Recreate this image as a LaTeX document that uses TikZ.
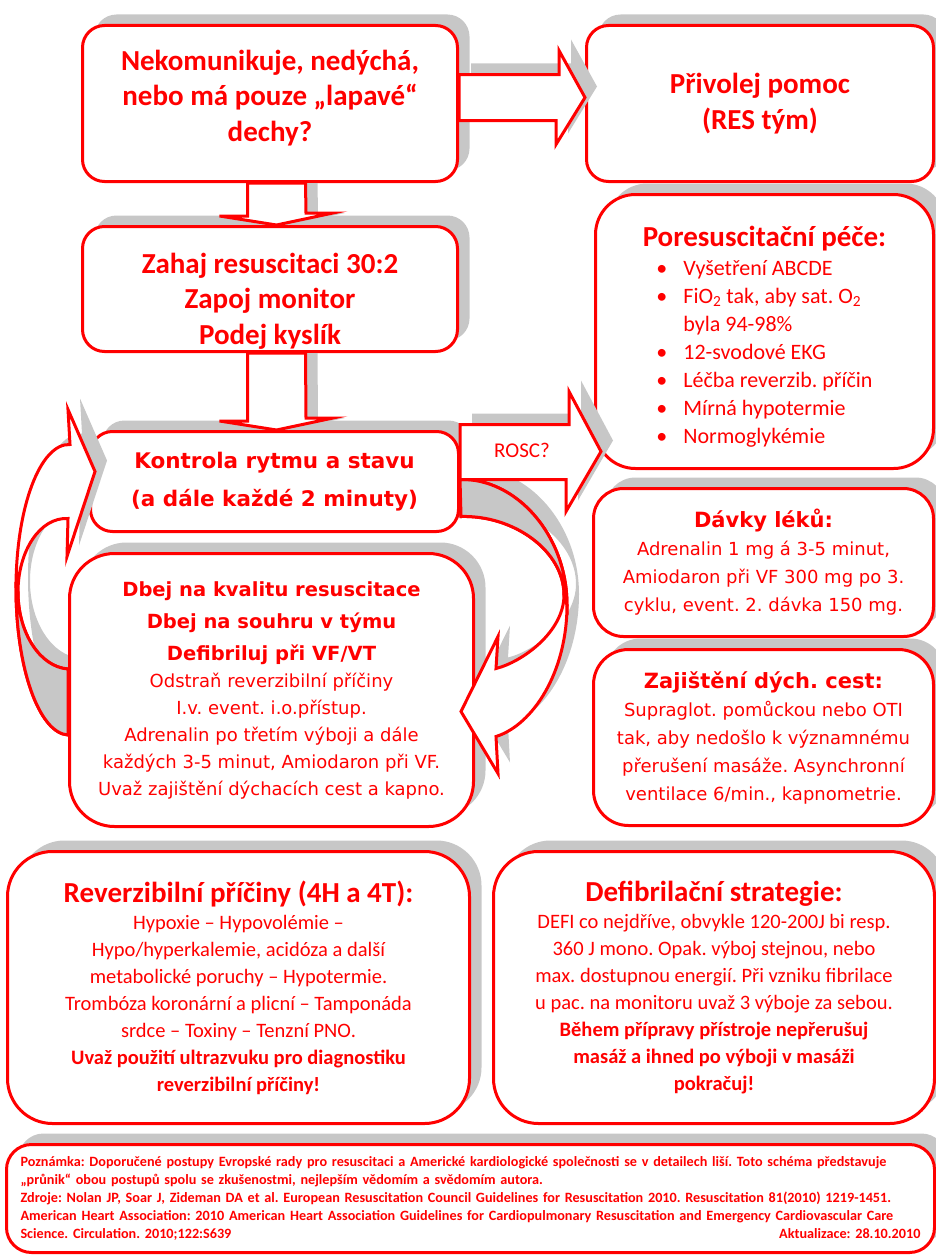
\documentclass[tikz,border=0pt]{standalone}
\usepackage{fontspec}
\setmainfont{Carlito}
\newfontfamily\tahoma{DejaVu Sans}
\usetikzlibrary{calc,shadows}
\pgfdeclarelayer{front}
\pgfsetlayers{main,front}
\frenchspacing

\begin{document}
\begin{tikzpicture}[x=1pt,y=-1pt,line join=miter,
    softshadow/.style={drop shadow={shadow xshift=12pt,shadow yshift=11pt,fill=black!22,opacity=1}},
    box/.style={draw=red,line width=3pt,fill=white,rounded corners=#1,text=red,align=center,inner sep=0pt,anchor=north west,softshadow},
    box/.default=22pt,
    big text/.style={font=\bfseries\fontsize{29}{35.5}\selectfont},
    wide text/.style={font=\tahoma\fontsize{18}{28}\selectfont},
    body text/.style={font=\fontsize{20.5}{27}\selectfont},
    arrow body/.style={draw=red,line width=3pt,fill=white},
    block arrow/.style={arrow body,softshadow},
    down arrow/.style={arrow body,drop shadow={shadow xshift=12pt,shadow yshift=0pt,fill=black!22,opacity=1}},
    back side/.style={draw=red,line width=3pt,fill=black!22}]
  \useasboundingbox (0,0) rectangle (935,1255);

  \node[box,big text,minimum width=375pt,minimum height=156pt] (ask) at (81,24)
    {Nekomunikuje, nedýchá,\\nebo má pouze „lapavé“\\dechy?\rule[-16pt]{0pt}{1pt}};
  \node[box,big text,minimum width=347pt,minimum height=156pt] (help) at (585,24)
    {Přivolej pomoc\\(RES tým)};
  \node[box,big text,minimum width=375pt,minimum height=125pt] (start) at (81,225)
    {\rule{0pt}{44pt}Zahaj resuscitaci 30:2\\Zapoj monitor\\Podej kyslík};
  \node[box,font=\tahoma\bfseries\fontsize{21.5}{38}\selectfont,minimum width=368pt,minimum height=100pt] (check) at (89,430)
    {Kontrola rytmu a stavu\\(a dále každé 2 minuty)};
  \node[box=40pt,font=\fontsize{22}{28}\selectfont,minimum width=338pt,minimum height=274pt] (post) at (594,193)
    {{\bfseries\fontsize{29}{35}\selectfont\rule{0pt}{36pt}Poresuscitační péče:}\\[4pt]
     \begin{tabular}{@{}l@{\hspace{16pt}}l@{}}
       \textbullet & Vyšetření ABCDE\\
       \textbullet & FiO\textsubscript{2} tak, aby sat. O\textsubscript{2}\\
                   & byla 94-98\%\\
       \textbullet & 12-svodové EKG\\
       \textbullet & Léčba reverzib. příčin\\
       \textbullet & Mírná hypotermie\\
       \textbullet & Normoglykémie
     \end{tabular}};
  \node[box=30pt,wide text,minimum width=340pt,minimum height=148pt] (drugs) at (592,487)
    {{\bfseries\fontsize{21}{27}\selectfont Dávky léků:}\\
     Adrenalin 1 mg á 3-5 minut,\\Amiodaron při VF 300 mg po 3.\\cyklu, event. 2. dávka 150 mg.};
  \node[box=35pt,wide text,minimum width=340pt,minimum height=176pt] (airway) at (592,648)
    {{\bfseries\fontsize{21}{27}\selectfont Zajištění dých. cest:}\\
     Supraglot. pomůckou nebo OTI\\tak, aby nedošlo k významnému\\přerušení masáže. Asynchronní\\ventilace 6/min., kapnometrie.};

  % block arrows of the upper part
  \filldraw[block arrow] ($(ask.east)+(0,-29)$) -- ++(100,0) -- ++(0,-24) -- ($(help.west)+(0,-6)$)
    -- ++(-29,47) -- ++(0,-24) -- ($(ask.east)+(0,17)$) -- cycle;
  \filldraw[down arrow] ($(ask.south)+(-22.5,0)$) -- ++(0,33) -- ++(-28,0) -- ($(start.north)+(6.5,0)$)
    -- ++(56.5,-12) -- ++(-27,0) -- ($(ask.south)+(35.5,0)$) -- cycle;
  \filldraw[down arrow] ($(start.south)+(-22.5,0)$) -- ++(0,68) -- ++(-28,0) -- ($(check.north)+(2,0)$)
    -- ++(56.5,-12) -- ++(-27,0) -- ($(start.south)+(35.5,0)$) -- cycle;

  \begin{pgfonlayer}{front}
    \node[box=45pt,font=\tahoma\fontsize{18}{27}\selectfont,minimum width=404pt,minimum height=273pt] (quality) at (68,552)
      {{\bfseries\fontsize{19.5}{27}\selectfont Dbej na kvalitu resuscitace}\\[5pt]{\bfseries\fontsize{19.5}{27}\selectfont Dbej na souhru v týmu}\\[5pt]{\bfseries\fontsize{19.5}{27}\selectfont Defibriluj při VF/VT}\\
       Odstraň reverzibilní příčiny\\I.v. event. i.o.přístup.\\Adrenalin po třetím výboji a dále\\
       každých 3-5 minut, Amiodaron při VF.\\Uvaž zajištění dýchacích cest a kapno.};
  \end{pgfonlayer}

  % loop back to the rhythm check
  \filldraw[block arrow] ($(quality.west)+(0,45)$) .. controls (39,733) and (16,668) .. (16,588)
    .. controls (16,508) and (40,443) .. ($(check.west)+(-19,-37)$) -- ++(-2,-35)
    -- ($(check.west)+(6,-10)$) -- ++(-28,85) -- ++(1,-38)
    .. controls (40,517) and (18,551) .. (18,592) .. controls (18,633) and (40,667) .. ($(quality.west)+(0,-21)$) -- cycle;
  \filldraw[back side] (18,592) .. controls (18,633) and (40,667) .. ($(quality.west)+(0,-21)$)
    -- ($(quality.west)+(0,45)$) .. controls (39,733) and (16,668) .. (16,588) -- cycle;

  \begin{pgfonlayer}{front}
    \filldraw[block arrow] ($(check.east)+(0,-2)$) .. controls (516,478) and (567,535) .. (567,605)
      .. controls (567,672) and (533,725) .. ($(quality.east)+(21,46.5)$) -- ++(2,37)
      -- ($(quality.east)+(-14,21.5)$) -- ++(37,-75) -- ++(-2,32)
      .. controls (522,662) and (564,632) .. (564,595) .. controls (564,551) and (514,515) .. ($(check.east)+(1,35)$) -- cycle;
    \filldraw[back side] ($(check.east)+(0,-2)$) .. controls (516,478) and (567,535) .. (567,605)
      -- (564,595) .. controls (564,551) and (514,515) .. ($(check.east)+(1,35)$) -- cycle;

    \filldraw[block arrow] ($(check.east)+(0,-57)$) -- ++(109,0) -- ++(0,-33) -- ($(post.west)+(7,120)$)
      -- ++(-35,60) -- ++(0,-32) -- ($(check.east)+(0,-2)$) -- cycle;
    \node[text=red,font=\fontsize{21}{25}\selectfont] (rosc) at (522,450) {ROSC?};
  \end{pgfonlayer}

  \node[box=45pt,body text,minimum width=462pt,minimum height=272pt] (causes) at (6,850)
    {{\bfseries\fontsize{29}{34}\selectfont Reverzibilní příčiny (4H a 4T):}\\
     Hypoxie – Hypovolémie –\\Hypo/hyperkalemie, acidóza a další\\metabolické poruchy – Hypotermie.\\
     Trombóza koronární a plicní – Tamponáda\\srdce – Toxiny – Tenzní PNO.\\
     \textbf{Uvaž použití ultrazvuku pro diagnostiku}\\\textbf{reverzibilní příčiny!}};
  \node[box=45pt,body text,minimum width=441pt,minimum height=272pt] (defib) at (492,850)
    {{\bfseries\fontsize{29}{34}\selectfont Defibrilační strategie:}\\
     DEFI co nejdříve, obvykle 120-200J bi resp.\\360 J mono. Opak. výboj stejnou, nebo\\
     max. dostupnou energií. Při vzniku fibrilace\\u pac. na monitoru uvaž 3 výboje za sebou.\\
     \textbf{Během přípravy přístroje nepřerušuj}\\\textbf{masáž a ihned po výboji v masáži}\\\textbf{pokračuj!}};
  \node[box=25pt,font=\bfseries\fontsize{14.2}{18}\selectfont,align=left,text width=900pt,minimum width=928pt,minimum height=108pt] (note) at (5,1143)
    {Poznámka: Doporučené postupy Evropské rady pro resuscitaci a Americké kardiologické společnosti se v detailech liší. Toto schéma představuje\\
     „průnik“ obou postupů spolu se zkušenostmi, nejlepším vědomím a svědomím autora.\\
     Zdroje: Nolan JP, Soar J, Zideman DA et al. European Resuscitation Council Guidelines for Resuscitation 2010. Resuscitation 81(2010) 1219-1451.\\
     American Heart Association: 2010 American Heart Association Guidelines for Cardiopulmonary Resuscitation and Emergency Cardiovascular Care\\
     Science. Circulation. 2010;122:S639\hfill Aktualizace: 28.10.2010};
\end{tikzpicture}
\end{document}
